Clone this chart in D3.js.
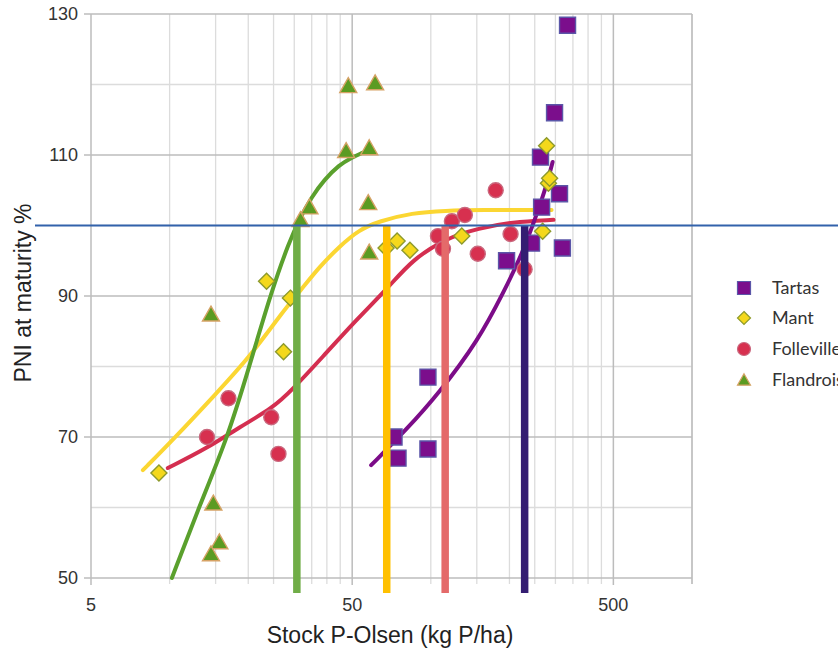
<!DOCTYPE html>
<html>
<head>
<meta charset="utf-8">
<script src="https://cdn.jsdelivr.net/npm/d3@7"></script>
<style>
  html, body { margin: 0; padding: 0; background: #fff; }
  svg { display: block; }
</style>
</head>
<body>
<svg id="chart" width="838" height="650"></svg>
<script>
// ---- Data -------------------------------------------------------------
// Axis tick labels
const xTickLabels = [5, 50, 500];
const yTickLabels = [50, 70, 90, 110, 130];
const yMinorLines = [60, 80, 100, 120];

// Series names (legend order)
const seriesNames = ["Tartas", "Mant", "Folleville", "Flandrois"];

// Observations: [stock P-Olsen (kg P/ha), PNI at maturity %]
const tartasPoints = [
  [72.3, 70.0], [74.9, 67.0], [97.5, 78.5], [97.5, 68.3], [195, 95.0], [243, 97.5],
  [265.6, 102.6], [263, 109.7], [297.7, 116.0], [311, 104.5], [319, 96.8], [333.8, 128.4]
];
const mantPoints = [
  [9.1, 64.9], [27.3, 82.1], [29.0, 89.7], [23.5, 92.1], [67.4, 96.8], [74.3, 97.8],
  [83.2, 96.5], [131.4, 98.5], [268, 99.2], [277.5, 111.3], [282, 106.0], [285, 106.7]
];
const follevillePoints = [
  [13.9, 70.0], [16.8, 75.5], [24.5, 72.8], [26.1, 67.6], [106.5, 98.5], [111.3, 96.7],
  [120.4, 100.6], [135, 101.5], [151.3, 96.0], [177.2, 105.0], [202, 98.8], [228.6, 93.8]
];
const flandroisPoints = [
  [14.4, 87.4], [14.7, 60.6], [15.5, 55.1], [14.4, 53.4], [48.3, 119.8], [61.2, 120.2],
  [47.4, 110.6], [58.1, 111.0], [57.6, 103.2], [34.3, 102.6], [31.7, 100.8], [58.1, 96.2]
];

// Response curves for each site
const tartasCurve = [
  [59.1, 66.0], [80.4, 71.0], [107.4, 76.2], [152.7, 83.8], [190.2, 90.6],
  [222.8, 95.8], [254, 101.5], [277.5, 105.7], [292.6, 109.0]
];
const mantCurve = [
  [7.9, 65.3], [10.3, 69.6], [15.1, 76.2], [20.2, 81.3], [27.0, 87.7], [31.9, 90.9],
  [37.4, 94.1], [44.6, 97.0], [53.2, 99.4], [63.4, 100.6], [84.7, 101.8],
  [114.2, 102.1], [152.7, 102.2], [290, 102.2]
];
const follevilleCurve = [
  [9.84, 65.6], [13.9, 68.4], [18.5, 71.4], [24.8, 74.1], [29.5, 76.7], [38.4, 81.3],
  [51.8, 86.6], [69.2, 91.3], [84.7, 95.1], [114.2, 98.2], [152.7, 99.6],
  [204, 100.5], [295, 100.8]
];
const flandroisCurve = [
  [10.2, 50.0], [13.0, 60.2], [16.7, 70.0], [20.0, 79.5], [24.5, 90.6], [28.7, 97.7],
  [31.4, 100.9], [34.9, 104.0], [39.1, 106.5], [44.6, 108.6], [49.6, 109.6], [54.6, 110.3]
];

// Critical stock values where each curve reaches the reference PNI
const criticalStock = [30.7, 67.8, 113.5, 228.7];   // Flandrois, Mant, Folleville, Tartas
const referencePNI = 100;

// ---- Layout -----------------------------------------------------------
const svg = d3.select("#chart");
const plotLeft = 91, plotRight = 692, plotTop = 14, plotBottom = 578;

const x = d3.scaleLog().domain([5, 1000]).range([plotLeft, plotRight]);
const y = d3.scaleLinear().domain([50, 130]).range([plotBottom, plotTop]);

const majorGrid = "#bcbcbc", minorGrid = "#dcdcdc";
const labelFont = "'Liberation Sans', Arial, Helvetica, sans-serif";

// Minor log gridlines: multiples of each decade start (5, 50, 500)
const xMinor = [];
xTickLabels.forEach(base => {
  for (let k = 2; k <= 9; k++) {
    const v = base * k;
    if (v <= 1000) xMinor.push(v);
  }
});

const grid = svg.append("g");
grid.selectAll(".xminor").data(xMinor).join("line")
  .attr("x1", d => x(d)).attr("x2", d => x(d))
  .attr("y1", plotTop).attr("y2", plotBottom + 6)
  .attr("stroke", minorGrid).attr("stroke-width", 1.3);
grid.selectAll(".yminor").data(yMinorLines).join("line")
  .attr("x1", plotLeft).attr("x2", plotRight)
  .attr("y1", d => y(d)).attr("y2", d => y(d))
  .attr("stroke", minorGrid).attr("stroke-width", 1.3);
grid.selectAll(".xmajor").data(xTickLabels).join("line")
  .attr("x1", d => x(d)).attr("x2", d => x(d))
  .attr("y1", plotTop).attr("y2", plotBottom + 7)
  .attr("stroke", majorGrid).attr("stroke-width", 1.5);
grid.selectAll(".ymajor").data(yTickLabels).join("line")
  .attr("x1", plotLeft - 7).attr("x2", plotRight)
  .attr("y1", d => y(d)).attr("y2", d => y(d))
  .attr("stroke", majorGrid).attr("stroke-width", 1.5);
grid.append("line")
  .attr("x1", plotRight).attr("x2", plotRight).attr("y1", plotTop).attr("y2", plotBottom + 6)
  .attr("stroke", majorGrid).attr("stroke-width", 1.5);

// Tick labels
svg.append("g").selectAll("text").data(yTickLabels).join("text")
  .attr("x", 78).attr("y", d => y(d)).attr("dy", "0.36em")
  .attr("text-anchor", "end")
  .attr("font-family", labelFont).attr("font-size", 18).attr("fill", "#333")
  .text(d => d);
svg.append("g").selectAll("text").data(xTickLabels).join("text")
  .attr("x", d => x(d)).attr("y", 611)
  .attr("text-anchor", "middle")
  .attr("font-family", labelFont).attr("font-size", 18).attr("fill", "#333")
  .text(d => d);

// Axis titles
svg.append("text")
  .attr("x", 390).attr("y", 643).attr("text-anchor", "middle")
  .attr("font-family", labelFont).attr("font-size", 23).attr("fill", "#222")
  .text("Stock P-Olsen (kg P/ha)");
svg.append("text")
  .attr("transform", "translate(31,293) rotate(-90)").attr("text-anchor", "middle")
  .attr("font-family", labelFont).attr("font-size", 23).attr("fill", "#222")
  .text("PNI at maturity %");

// ---- Curves -----------------------------------------------------------
const line = d3.line().x(d => x(d[0])).y(d => y(d[1])).curve(d3.curveBasis);
const curves = [
  { data: mantCurve, color: "#fbd632" },
  { data: follevilleCurve, color: "#d42e50" },
  { data: tartasCurve, color: "#7c0c88" },
  { data: flandroisCurve, color: "#5aa02d" }
];
svg.append("g").selectAll("path").data(curves).join("path")
  .attr("d", d => line(d.data))
  .attr("fill", "none").attr("stroke", d => d.color)
  .attr("stroke-width", 4).attr("stroke-linecap", "round");

// ---- Markers ----------------------------------------------------------
const styles = {
  Tartas:     { shape: "square",   fill: "#7b0e8c", stroke: "#5b56a8" },
  Mant:       { shape: "diamond",  fill: "#f4d81c", stroke: "#8d9a2c" },
  Folleville: { shape: "circle",   fill: "#d7304f", stroke: "#c9687e" },
  Flandrois:  { shape: "triangle", fill: "#5b9b22", stroke: "#d6a265" }
};

function markerPath(shape, s) {
  const h = s / 2;
  if (shape === "square") return `M${-h},${-h}H${h}V${h}H${-h}Z`;
  if (shape === "diamond") return `M0,${-h}L${h},0L0,${h}L${-h},0Z`;
  if (shape === "triangle") {
    const th = s * 0.88;
    return `M0,${-th * 0.55}L${h},${th * 0.45}L${-h},${th * 0.45}Z`;
  }
  return d3.arc()({ innerRadius: 0, outerRadius: h, startAngle: 0, endAngle: 2 * Math.PI });
}

const markerSets = [
  { name: "Tartas", data: tartasPoints, size: 16 },
  { name: "Folleville", data: follevillePoints, size: 15 },
  { name: "Mant", data: mantPoints, size: 16 },
  { name: "Flandrois", data: flandroisPoints, size: 17 }
];
markerSets.forEach(set => {
  const st = styles[set.name];
  svg.append("g").selectAll("path").data(set.data).join("path")
    .attr("transform", d => `translate(${x(d[0])},${y(d[1])})`)
    .attr("d", markerPath(st.shape, set.size))
    .attr("fill", st.fill).attr("stroke", st.stroke).attr("stroke-width", 1.4);
});

// ---- Critical stock bars ---------------------------------------------
const barColors = ["#70ad47", "#ffc000", "#e46a6a", "#341d72"];
svg.append("g").selectAll("line").data(criticalStock).join("line")
  .attr("x1", d => x(d)).attr("x2", d => x(d))
  .attr("y1", y(referencePNI)).attr("y2", plotBottom + 15)
  .attr("stroke", (d, i) => barColors[i]).attr("stroke-width", 7.5);

// Reference PNI line
svg.append("line")
  .attr("x1", 35).attr("x2", 838)
  .attr("y1", y(referencePNI)).attr("y2", y(referencePNI))
  .attr("stroke", "#3262ab").attr("stroke-width", 2);

// ---- Legend -----------------------------------------------------------
const legendFont = "Lato, 'Open Sans', sans-serif";
const legend = svg.append("g");
const legendY = [288, 318, 349, 380];
seriesNames.forEach((name, i) => {
  const st = styles[name];
  legend.append("path")
    .attr("transform", `translate(744,${legendY[i]})`)
    .attr("d", markerPath(st.shape, 13))
    .attr("fill", st.fill).attr("stroke", st.stroke).attr("stroke-width", 1.2);
  legend.append("text")
    .attr("x", 772).attr("y", legendY[i]).attr("dy", "0.36em")
    .attr("font-family", legendFont).attr("font-size", 18).attr("fill", "#333")
    .text(name);
});
</script>
</body>
</html>
